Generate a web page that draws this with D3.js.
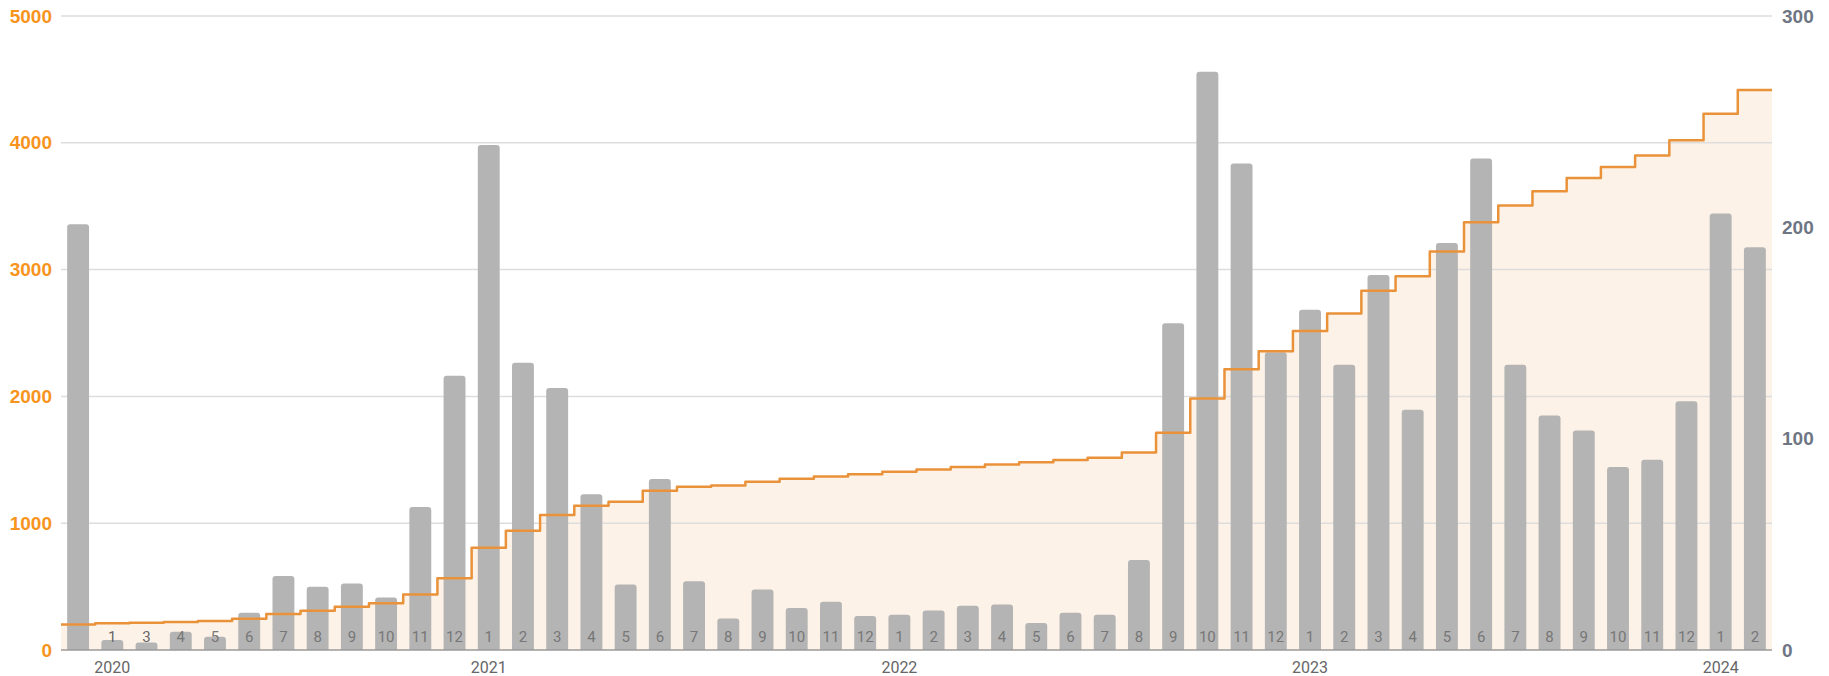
<!DOCTYPE html>
<html>
<head>
<meta charset="utf-8">
<script src="https://cdn.jsdelivr.net/npm/d3@7"></script>
<style>
  html, body { margin: 0; padding: 0; background: #fff; }
  svg { display: block; }
</style>
</head>
<body>
<svg id="chart" width="1829" height="676"></svg>
<script>
// period keys, first bar has no month label
const periods = [
  'start',
  '2020-1', '2020-3', '2020-4', '2020-5', '2020-6', '2020-7', '2020-8', '2020-9', '2020-10', '2020-11', '2020-12',
  '2021-1', '2021-2', '2021-3', '2021-4', '2021-5', '2021-6', '2021-7', '2021-8', '2021-9', '2021-10', '2021-11', '2021-12',
  '2022-1', '2022-2', '2022-3', '2022-4', '2022-5', '2022-6', '2022-7', '2022-8', '2022-9', '2022-10', '2022-11', '2022-12',
  '2023-1', '2023-2', '2023-3', '2023-4', '2023-5', '2023-6', '2023-7', '2023-8', '2023-9', '2023-10', '2023-11', '2023-12',
  '2024-1', '2024-2'
];

// bars, left axis
const monthly = [
  3358,
  79, 60, 144, 105, 294, 583, 499, 525, 415, 1128, 2163,
  3982, 2265, 2066, 1228, 517, 1349, 543, 249, 478, 331, 381, 268,
  278, 312, 349, 359, 213, 294, 278, 709, 2577, 4561, 3837, 2349,
  2683, 2250, 2958, 1895, 3210, 3877, 2249, 1850, 1732, 1444, 1500, 1961,
  3443, 3176
];

// stepped line, right axis
const running = [
  12.1,
  12.6, 12.9, 13.2, 13.7, 14.8, 17.0, 18.6, 20.5, 22.1, 26.3, 33.9,
  48.4, 56.4, 63.9, 68.3, 70.2, 75.4, 77.3, 77.8, 79.6, 81.0, 82.1, 83.2,
  84.3, 85.4, 86.6, 87.8, 88.9, 89.9, 91.0, 93.5, 102.8, 119.0, 132.9, 141.4,
  151.0, 159.2, 170.0, 176.9, 188.6, 202.4, 210.3, 217.1, 223.4, 228.6, 234.0, 241.2,
  253.7, 265.0
];

const leftTicks = [0, 1000, 2000, 3000, 4000, 5000];
const rightTicks = [0, 100, 200, 300];

const svg = d3.select('#chart');
const margin = { top: 16, right: 57, bottom: 26, left: 61 };
const width = 1829;
const height = 676;

const x = d3.scaleBand()
  .domain(periods)
  .range([margin.left, width - margin.right])
  .paddingInner(0.36)
  .paddingOuter(0.18);

const yLeft = d3.scaleLinear()
  .domain([0, 5000])
  .range([height - margin.bottom, margin.top]);

const yRight = d3.scaleLinear()
  .domain([0, 300])
  .range([height - margin.bottom, margin.top]);

const monthOf = (p) => (p === 'start' ? '' : p.split('-')[1]);
const yearOf = (p) => (p !== 'start' && p.split('-')[1] === '1' ? p.split('-')[0] : '');

// stepped points, stretched to the edges of the plot
const pts = periods.map((p, i) => ({ x: x(p) + x.bandwidth() / 2, v: running[i] }));
pts.unshift({ x: x.range()[0], v: running[0] });
pts.push({ x: x.range()[1], v: running[running.length - 1] });

svg.append('path')
  .datum(pts)
  .attr('fill', '#fdf2e7')
  .attr('d', d3.area()
    .curve(d3.curveStep)
    .x((d) => d.x)
    .y0(yRight(0))
    .y1((d) => yRight(d.v)));

// grid
svg.append('g')
  .selectAll('line')
  .data(leftTicks.filter((t) => t > 0))
  .enter()
  .append('line')
  .attr('x1', margin.left)
  .attr('x2', width - margin.right)
  .attr('y1', (d) => yLeft(d))
  .attr('y2', (d) => yLeft(d))
  .attr('stroke', '#dddddd')
  .attr('stroke-width', 1.5);

// bars, rounded on top only
const r = 3;
svg.append('g')
  .selectAll('path')
  .data(periods)
  .enter()
  .append('path')
  .attr('fill', '#b4b4b4')
  .attr('d', (p, i) => {
    const x0 = x(p);
    const w = x.bandwidth();
    const y0 = yLeft(0);
    const y1 = yLeft(monthly[i]);
    const rr = Math.min(r, (y0 - y1) / 2);
    return `M${x0},${y0}V${y1 + rr}Q${x0},${y1} ${x0 + rr},${y1}H${x0 + w - rr}Q${x0 + w},${y1} ${x0 + w},${y1 + rr}V${y0}Z`;
  });

// baseline
svg.append('line')
  .attr('x1', margin.left)
  .attr('x2', width - margin.right)
  .attr('y1', yLeft(0))
  .attr('y2', yLeft(0))
  .attr('stroke', '#9a9a9a')
  .attr('stroke-width', 1.5);

// month labels inside bars
svg.append('g')
  .selectAll('text')
  .data(periods)
  .enter()
  .append('text')
  .attr('x', (p) => x(p) + x.bandwidth() / 2)
  .attr('y', 637)
  .attr('dy', '0.35em')
  .attr('text-anchor', 'middle')
  .attr('font-family', 'Roboto, sans-serif')
  .attr('font-size', 15)
  .attr('fill', (p, i) => (i < 3 ? '#666' : '#777'))
  .text(monthOf);

// step line
svg.append('path')
  .datum(pts)
  .attr('fill', 'none')
  .attr('stroke', '#e9923a')
  .attr('stroke-width', 2.5)
  .attr('stroke-linejoin', 'round')
  .attr('d', d3.line()
    .curve(d3.curveStep)
    .x((d) => d.x)
    .y((d) => yRight(d.v)));

// year labels
svg.append('g')
  .selectAll('text')
  .data(periods.filter((p) => yearOf(p)))
  .enter()
  .append('text')
  .attr('x', (p) => x(p) + x.bandwidth() / 2)
  .attr('y', 667)
  .attr('dy', '0.35em')
  .attr('text-anchor', 'middle')
  .attr('font-family', 'Roboto, sans-serif')
  .attr('font-size', 16)
  .attr('fill', '#666')
  .text(yearOf);

// left axis labels
svg.append('g')
  .selectAll('text')
  .data(leftTicks)
  .enter()
  .append('text')
  .attr('x', 52)
  .attr('y', (d) => yLeft(d))
  .attr('dy', '0.35em')
  .attr('text-anchor', 'end')
  .attr('font-family', 'Liberation Sans, Arial, sans-serif')
  .attr('font-weight', 'bold')
  .attr('font-size', 19)
  .attr('fill', '#f7941d')
  .text((d) => d);

// right axis labels
svg.append('g')
  .selectAll('text')
  .data(rightTicks)
  .enter()
  .append('text')
  .attr('x', 1782)
  .attr('y', (d) => yRight(d))
  .attr('dy', '0.35em')
  .attr('text-anchor', 'start')
  .attr('font-family', 'Liberation Sans, Arial, sans-serif')
  .attr('font-weight', 'bold')
  .attr('font-size', 19)
  .attr('fill', '#6e7583')
  .text((d) => d);
</script>
</body>
</html>
